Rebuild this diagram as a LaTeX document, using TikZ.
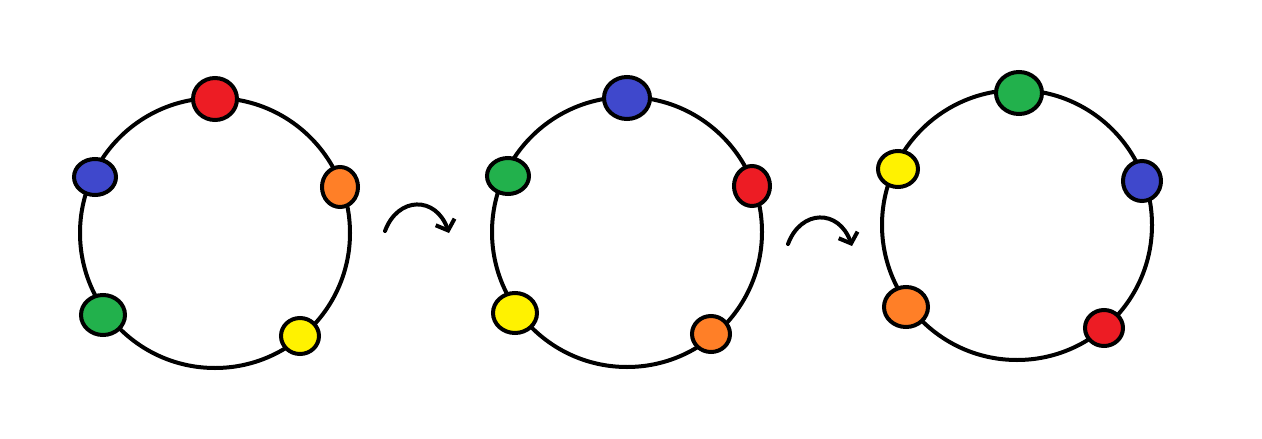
\documentclass[tikz,border=0pt]{standalone}
\usetikzlibrary{shapes.geometric,arrows.meta}
\definecolor{cred}{RGB}{237,28,36}
\definecolor{cblue}{RGB}{63,72,204}
\definecolor{cgreen}{RGB}{34,177,76}
\definecolor{cyellow}{RGB}{255,242,0}
\definecolor{corange}{RGB}{255,127,39}
\tikzset{
  ring/.style={draw=black,line width=4pt},
  dot/.style={ellipse,draw=black,line width=4pt,inner sep=0pt},
  turn/.style={draw=black,line width=4pt,line cap=round,-{Straight Barb[length=9pt,width=20pt,line width=4pt]}}
}
\begin{document}
\begin{tikzpicture}[x=1pt,y=-1pt]
\useasboundingbox (0,0) rectangle (1262,439);
% circle 1
\node[circle,ring,minimum size=270pt,inner sep=0pt] (c1) at (215,233) {};
\node[dot,fill=cred,minimum width=44pt,minimum height=42pt] (r1) at (215,99) {};
\node[dot,fill=corange,minimum width=36pt,minimum height=40pt] (o1) at (340,187) {};
\node[dot,fill=cyellow,minimum width=38pt,minimum height=36pt] (y1) at (300,336) {};
\node[dot,fill=cgreen,minimum width=44pt,minimum height=40pt] (g1) at (103,315) {};
\node[dot,fill=cblue,minimum width=42pt,minimum height=36pt] (b1) at (95,177) {};
% circle 2
\node[circle,ring,minimum size=270pt,inner sep=0pt] (c2) at (627,232) {};
\node[dot,fill=cblue,minimum width=46pt,minimum height=42pt] (b2) at (627,98) {};
\node[dot,fill=cred,minimum width=36pt,minimum height=40pt] (r2) at (752,186) {};
\node[dot,fill=corange,minimum width=38pt,minimum height=36pt] (o2) at (711,334) {};
\node[dot,fill=cyellow,minimum width=44pt,minimum height=40pt] (y2) at (515,313) {};
\node[dot,fill=cgreen,minimum width=42pt,minimum height=36pt] (g2) at (508,176) {};
% circle 3
\node[circle,ring,minimum size=270pt,inner sep=0pt] (c3) at (1017,225) {};
\node[dot,fill=cgreen,minimum width=46pt,minimum height=42pt] (g3) at (1019,93) {};
\node[dot,fill=cblue,minimum width=38pt,minimum height=40pt] (b3) at (1142,181) {};
\node[dot,fill=cred,minimum width=38pt,minimum height=36pt] (r3) at (1104,328) {};
\node[dot,fill=corange,minimum width=44pt,minimum height=40pt] (o3) at (906,307) {};
\node[dot,fill=cyellow,minimum width=40pt,minimum height=36pt] (y3) at (898,169) {};
% arrows
\coordinate (a1s) at (385,231);
\coordinate (a1e) at (449,233);
\coordinate (a2s) at (788,244);
\coordinate (a2e) at (852,246);
\draw[turn] (a1s) .. controls (398,196) and (436,196) .. (a1e);
\draw[turn] (a2s) .. controls (801,209) and (839,209) .. (a2e);
\end{tikzpicture}
\end{document}
